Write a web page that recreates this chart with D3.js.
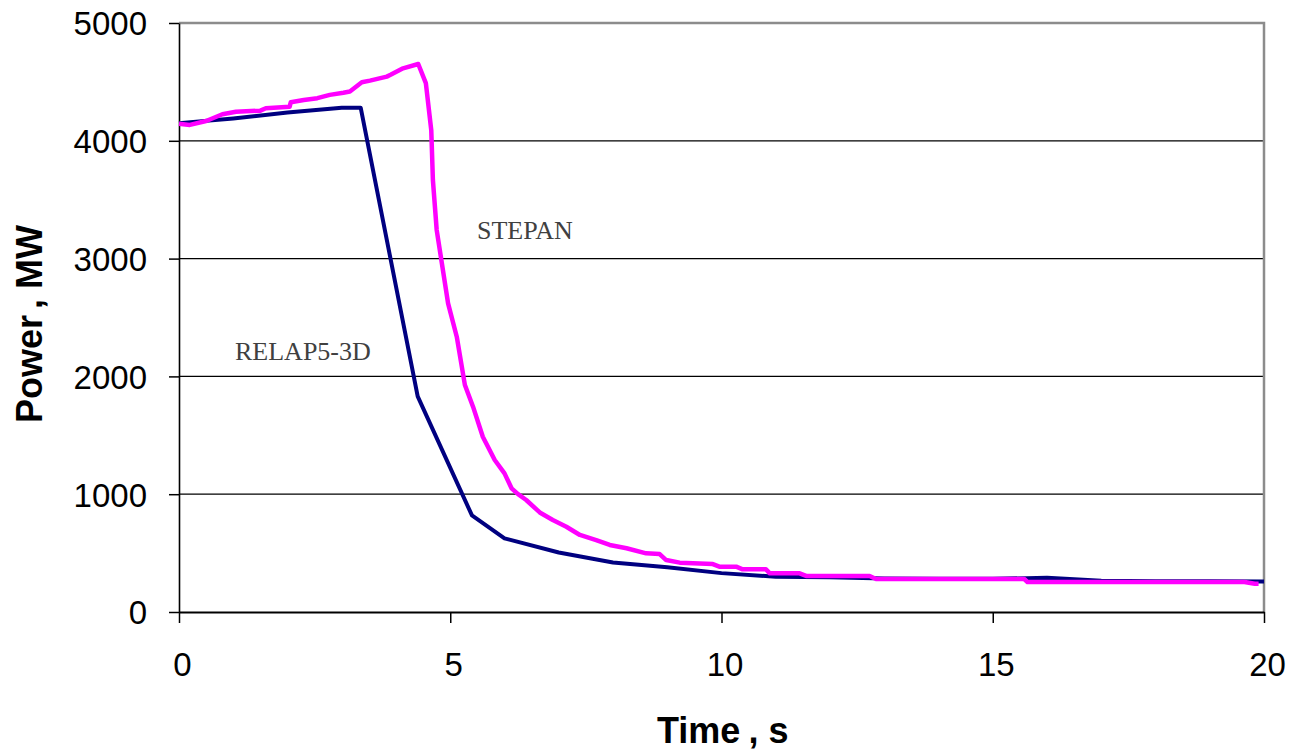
<!DOCTYPE html>
<html>
<head>
<meta charset="utf-8">
<script src="https://cdn.jsdelivr.net/npm/d3@7"></script>
<style>
  body { margin: 0; background: #fff; }
  svg { display: block; }
</style>
</head>
<body>
<svg id="chart" width="1290" height="752"></svg>
<script>
// data
var relapTime  = [0, 1, 2, 3, 3.35, 4.4, 5.4, 6, 7, 8, 9, 10, 11, 12, 13, 14, 15, 16, 17, 18, 19, 20];
var relapPower = [4150, 4190, 4240, 4280, 4280, 1830, 820, 625, 505, 420, 380, 330, 300, 295, 285, 283, 282, 290, 265, 262, 260, 258];

var stepanTime  = [0, 0.2, 0.5, 0.8, 1.05, 1.5, 1.6, 2.04, 2.06, 2.3, 2.55, 2.78, 3.03, 3.15, 3.37, 3.52, 3.83, 3.9, 4.13, 4.41,
                   4.55, 4.65, 4.68, 4.75, 4.96, 5.12, 5.27, 5.42, 5.6, 5.82, 6.0, 6.13, 6.25, 6.4, 6.65, 6.89, 7.14, 7.39, 7.69, 7.94,
                   8.25, 8.61, 8.86, 8.98, 9.23, 9.84, 9.96, 10.27, 10.39, 10.82, 10.89, 11.44, 11.56, 12.73, 12.85, 15.58, 15.64, 19.64, 19.83, 19.9];
var stepanPower = [4145, 4135, 4168, 4225, 4247, 4256, 4276, 4290, 4327, 4346, 4362, 4390, 4408, 4418, 4497, 4511, 4545, 4560, 4615, 4652,
                   4490, 4090, 3667, 3243, 2620, 2337, 1927, 1743, 1488, 1290, 1177, 1050, 1000, 951, 845, 781, 724, 654, 611, 569,
                   541, 498, 492, 441, 419, 407, 385, 385, 362, 362, 328, 328, 306, 306, 280, 280, 255, 255, 240, 240];

var xTicks = [0, 5, 10, 15, 20];
var yTicks = [0, 1000, 2000, 3000, 4000, 5000];

var svg = d3.select('#chart');

var margin = {top: 23, left: 179, bottom: 140, right: 26};
var width = 1290 - margin.left - margin.right;
var height = 752 - margin.top - margin.bottom;

var x = d3.scaleLinear().domain([0, 20]).range([0, width]);
var y = d3.scaleLinear().domain([0, 5000]).range([height, 0]);

var g = svg.append("g")
    .attr("transform", "translate(" + [margin.left, margin.top] + ")");

// gridlines
g.append("g")
    .selectAll("line")
    .data(yTicks.filter(function(d) { return d > 0 && d < 5000; }))
    .enter().append("line")
    .attr("x1", 0).attr("x2", width)
    .attr("y1", function(d) { return y(d); })
    .attr("y2", function(d) { return y(d); })
    .attr("stroke", "#000").attr("stroke-width", 1.2);

// gray top and right border
g.append("path")
    .attr("d", "M0," + y(5000) + "H" + x(20) + "V" + y(0))
    .attr("fill", "none").attr("stroke", "#8c8c8c").attr("stroke-width", 2.5);

var xAxis = d3.axisBottom(x).tickValues(xTicks).tickSize(11).tickPadding(30).tickSizeOuter(0);
var yAxis = d3.axisLeft(y).tickValues(yTicks).tickFormat(d3.format("d")).tickSize(10).tickPadding(22).tickSizeOuter(0);

var gx = g.append("g")
    .attr("transform", "translate(0," + height + ")")
    .call(xAxis);
var gy = g.append("g").call(yAxis);

gx.select(".domain").attr("stroke", "#000").attr("stroke-width", 2.2);
gy.select(".domain").attr("stroke", "#000").attr("stroke-width", 1.6);
[gx, gy].forEach(function(a) {
    a.selectAll(".tick line").attr("stroke", "#000").attr("stroke-width", 1.5);
    a.selectAll(".tick text")
        .attr("fill", "#000")
        .style("font-family", "Arial, 'Liberation Sans', sans-serif")
        .style("font-size", "33px");
});
gx.selectAll(".tick text").attr("dx", 3);
gy.selectAll(".tick text").attr("dy", "0.36em");

// lines
var relap = relapTime.map(function(t, i) { return [t, relapPower[i]]; });
var stepan = stepanTime.map(function(t, i) { return [t, stepanPower[i]]; });

var line = d3.line()
    .x(function(d) { return x(d[0]); })
    .y(function(d) { return y(d[1]); });

g.append("path")
    .datum(relap)
    .attr("d", line)
    .attr("fill", "none")
    .attr("stroke", "#000080")
    .attr("stroke-width", 4)
    .attr("stroke-linejoin", "round");

g.append("path")
    .datum(stepan)
    .attr("d", line)
    .attr("fill", "none")
    .attr("stroke", "#ff00ff")
    .attr("stroke-width", 4.5)
    .attr("stroke-linejoin", "round");

// series labels
svg.append("text")
    .attr("x", 477).attr("y", 239)
    .style("font-family", "'Times New Roman', 'Liberation Serif', serif")
    .style("font-size", "26px")
    .attr("fill", "#404040")
    .text("STEPAN");

svg.append("text")
    .attr("x", 235).attr("y", 360)
    .style("font-family", "'Times New Roman', 'Liberation Serif', serif")
    .style("font-size", "26px")
    .attr("fill", "#404040")
    .text("RELAP5-3D");

// axis titles
var xt = svg.append("text")
    .attr("x", 657).attr("y", 743)
    .style("font-family", "Arial, 'Liberation Sans', sans-serif")
    .style("font-size", "36px")
    .style("font-weight", "bold");
xt.append("tspan").text("Time");
xt.append("tspan").attr("dx", 8).text(", s");

var yt = svg.append("text")
    .attr("transform", "translate(42,423) rotate(-90)")
    .style("font-family", "Arial, 'Liberation Sans', sans-serif")
    .style("font-size", "36px")
    .style("font-weight", "bold");
yt.append("tspan").text("Power");
yt.append("tspan").attr("dx", 8).text(", MW");
</script>
</body>
</html>
